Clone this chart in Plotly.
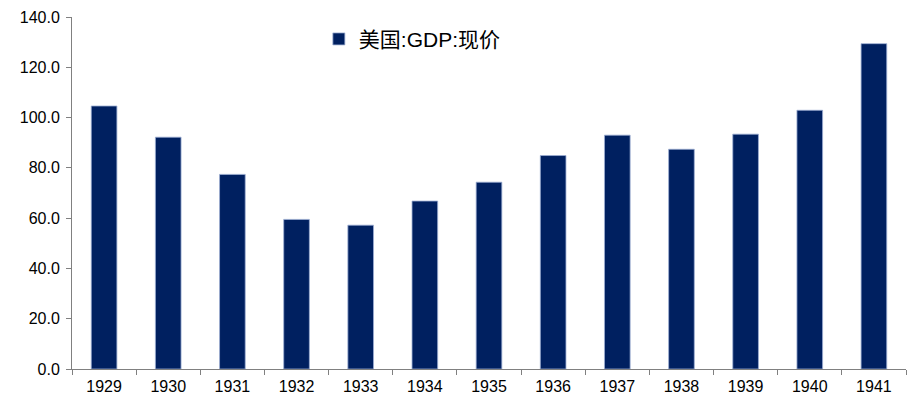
import plotly.graph_objects as go

years = ["1929", "1930", "1931", "1932", "1933", "1934", "1935",
         "1936", "1937", "1938", "1939", "1940", "1941"]
gdp = [104.6, 92.2, 77.4, 59.5, 57.2, 66.8, 74.3,
       84.9, 93.0, 87.4, 93.4, 102.9, 129.4]
series_name = "美国:GDP:现价"
y_ticks = [0, 20, 40, 60, 80, 100, 120, 140]
y_tick_text = [f"{v:.1f}" for v in y_ticks]

fig = go.Figure()
fig.add_trace(go.Bar(
    x=years, y=gdp, name=series_name,
    marker=dict(color="#002060", line=dict(color="#9DAFD3", width=0.8)),
    showlegend=True,
))

fig.update_layout(
    width=910, height=400,
    margin=dict(l=72, r=4, t=17, b=31),
    paper_bgcolor="white", plot_bgcolor="white",
    bargap=0.6,
    font=dict(family="Liberation Sans", size=16, color="#000000"),
    legend=dict(
        orientation="h", x=0.296, y=0.995, xanchor="left", yanchor="top",
        font=dict(family="Liberation Sans, Noto Sans CJK SC", size=21, color="#000000"),
        bgcolor="rgba(0,0,0,0)",
    ),
    xaxis=dict(
        type="category",
        showline=True, linecolor="#808080", linewidth=1,
        ticks="outside", tickson="boundaries", ticklen=5, tickcolor="#808080",
        showgrid=False, zeroline=False,
        tickfont=dict(family="Liberation Sans", size=16),
        ticklabelstandoff=3,
    ),
    yaxis=dict(
        range=[0, 140],
        tickvals=y_ticks, ticktext=y_tick_text,
        showline=True, linecolor="#808080", linewidth=1,
        ticks="outside", ticklen=5, tickcolor="#808080",
        showgrid=False, zeroline=False,
        tickfont=dict(family="Liberation Sans", size=16),
        ticklabelstandoff=3,
    ),
)

fig.write_html("out.html")
